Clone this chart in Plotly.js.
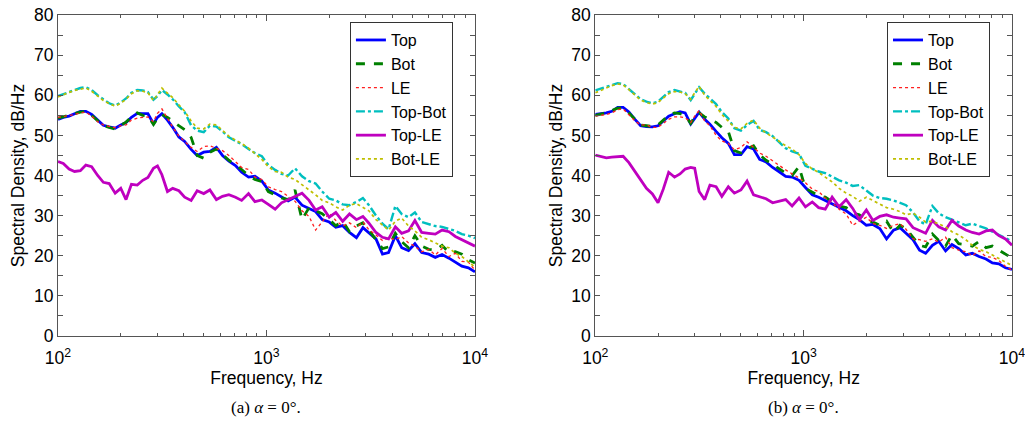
<!DOCTYPE html>
<html>
<head>
<meta charset="utf-8">
<script src="https://cdn.plot.ly/plotly-3.0.1.min.js"></script>
<style>html,body{margin:0;padding:0;background:#fff;}#chart{width:1025px;height:423px;}</style>
</head>
<body>
<div id="chart"></div>
<script>
const freq = [100,106,113,120,128,136,145,155,165,176,188,200,212,225,240,255,270,287,300,315,335,355,380,405,435,465,500,535,575,615,660,710,760,820,880,950,1020,1100,1180,1270,1370,1480,1600,1720,1850,2000,2150,2320,2500,2700,2900,3100,3350,3600,3850,4150,4450,4800,5150,5550,6000,6450,6950,7500,8050,8650,9300,10000];

const seriesNames = ["Top","Bot","LE","Top-Bot","Top-LE","Bot-LE"];

// Panel (a)
const topA = [54.0,54.5,54.8,55.3,56.0,56.0,55.2,53.8,52.5,52.1,51.8,52.6,53.2,54.5,55.5,55.4,55.4,52.9,54.5,55.4,53.8,52.0,49.6,48.5,46.5,45.0,45.8,46.0,47.0,45.0,43.6,42.5,40.8,39.6,39.8,38.6,36.4,35.6,34.6,33.7,34.6,32.6,31.8,31.0,29.0,28.4,27.1,27.5,25.8,24.5,27.0,25.6,24.2,20.4,20.8,25.0,22.0,21.3,23.0,20.8,20.4,19.6,20.3,19.4,18.5,17.4,17.0,16.0];
const botA = [54.3,54.6,54.9,55.4,55.8,56.0,55.0,53.6,52.4,52.0,51.6,52.5,53.3,54.6,55.6,55.0,54.8,52.7,54.2,55.2,54.5,53.5,52.5,51.4,49.5,45.0,44.3,45.8,46.6,45.2,43.8,42.6,41.5,40.0,39.0,38.5,36.0,35.2,34.4,34.0,36.4,29.0,32.0,31.2,30.5,29.0,27.5,28.6,26.0,27.4,28.2,26.4,24.0,21.8,22.2,25.6,23.5,22.0,25.0,22.4,21.6,21.4,22.6,20.8,21.0,20.4,19.0,18.2];
const leA = [54.5,54.7,55.0,55.2,55.6,55.8,54.8,53.4,52.6,52.3,51.9,52.4,52.6,53.8,54.3,54.5,54.6,53.4,55.5,56.6,54.2,52.0,49.8,48.5,47.0,46.0,47.2,47.4,46.8,46.2,45.0,43.4,42.0,41.5,39.6,39.0,37.2,36.5,36.0,34.8,33.6,31.2,29.8,26.4,28.5,30.6,28.8,27.4,28.2,27.0,28.4,26.5,25.2,23.8,24.4,24.0,24.8,23.2,22.4,21.0,21.6,20.2,21.8,19.8,20.6,18.6,18.4,16.4];
const topBotA = [59.8,60.3,60.8,61.4,61.8,62.0,61.3,60.0,58.9,58.0,57.4,58.2,59.2,60.6,61.3,61.2,60.8,58.9,59.8,61.3,60.2,59.0,57.2,55.8,52.5,51.2,50.8,52.4,52.2,51.0,49.5,48.6,47.8,46.6,45.6,44.8,42.6,41.4,40.4,40.0,41.8,39.8,38.6,38.0,36.0,34.2,33.8,32.8,32.6,33.4,34.4,32.6,30.0,28.0,26.6,32.4,30.4,29.6,30.8,28.4,27.8,27.4,27.2,26.6,26.2,25.4,25.0,24.4];
const topLeA = [43.5,43.0,41.6,41.0,41.2,42.6,42.2,40.0,38.3,38.0,35.6,36.8,34.0,37.8,37.6,38.8,39.5,41.8,42.4,40.2,36.0,36.8,36.2,34.6,33.8,36.2,35.5,36.4,34.0,34.8,35.2,34.6,33.8,35.5,33.5,33.9,32.8,31.6,33.2,34.0,34.7,35.6,33.8,31.4,32.2,29.6,30.8,28.6,30.4,29.0,29.8,28.1,25.8,24.6,24.2,27.2,25.6,26.2,28.8,25.8,25.6,25.4,26.4,26.0,24.8,24.0,23.2,22.4];
const botLeA = [59.6,60.2,60.7,61.2,61.6,61.8,61.0,59.8,58.7,57.9,57.3,58.0,59.0,60.4,61.1,61.0,60.6,58.7,60.2,61.8,60.5,59.4,57.6,56.0,53.6,51.8,51.6,52.8,52.6,51.2,49.8,48.8,48.0,46.8,45.4,44.0,42.2,41.0,40.8,39.6,39.0,37.6,36.4,35.2,33.8,33.2,32.2,31.4,32.6,33.0,32.0,31.2,29.0,27.6,26.4,28.6,29.4,27.4,26.2,24.6,24.0,23.2,22.4,22.0,20.6,19.8,18.4,17.2];

// Panel (b)
const topB = [55.2,55.4,55.6,56.0,57.0,57.0,55.8,54.0,52.4,52.2,52.1,52.4,53.6,54.8,55.4,55.9,55.6,52.8,54.2,55.8,54.0,52.8,51.0,49.4,48.0,45.2,45.2,47.2,46.6,44.0,43.4,42.0,41.0,39.8,39.6,38.8,37.0,35.2,34.6,33.8,33.0,32.0,31.2,30.0,29.0,27.6,27.8,26.8,24.2,26.4,27.0,25.6,24.0,21.4,20.6,22.6,23.6,21.2,22.8,21.8,20.2,20.6,19.8,19.2,18.2,18.0,17.0,16.6];
const botB = [55.0,55.2,55.6,56.2,56.8,56.8,55.6,54.0,52.6,52.4,52.2,52.6,53.8,55.0,55.6,55.4,55.0,53.0,54.6,55.6,54.6,54.0,53.2,52.0,51.0,46.2,45.6,46.6,47.4,45.2,43.8,42.8,41.8,40.6,40.0,42.2,36.8,35.8,35.0,34.6,33.6,32.4,32.0,30.6,30.2,28.8,28.4,27.6,28.6,25.8,27.6,26.8,24.6,22.6,22.2,25.4,23.8,22.4,25.2,23.0,22.8,22.4,23.6,22.0,22.4,21.4,20.6,19.4];
const leB = [54.8,55.0,55.2,55.6,56.4,56.6,55.2,53.6,52.6,52.6,52.0,52.0,53.0,54.0,54.6,54.6,54.4,53.2,54.8,56.2,53.6,52.4,50.0,48.6,48.0,46.4,47.0,48.4,47.0,45.6,44.8,43.6,42.6,41.4,40.4,39.4,38.2,36.6,36.0,34.4,33.2,31.6,30.4,27.6,28.6,29.6,28.0,27.6,26.8,27.6,28.0,26.6,24.2,24.0,23.6,24.2,23.4,24.6,22.0,21.4,21.0,20.0,21.2,19.8,19.6,18.8,17.4,16.4];
const topBotB = [61.2,61.6,62.0,62.6,63.0,62.8,61.6,60.2,59.0,58.4,58.0,58.4,59.6,60.8,61.3,61.0,60.6,58.8,60.2,62.0,60.4,59.2,57.8,55.8,54.2,51.8,51.2,52.6,53.6,51.4,50.8,49.8,48.4,46.8,46.0,45.4,42.4,41.6,41.0,40.6,39.8,38.8,38.2,37.4,37.6,36.2,35.0,34.4,34.2,33.8,33.2,32.6,30.8,28.6,27.8,32.4,30.6,29.6,29.0,28.4,27.6,28.0,27.4,26.8,26.0,25.2,24.4,23.6];
const topLeB = [45.1,44.8,44.4,44.6,44.8,44.8,43.2,41.0,38.8,36.8,35.4,33.2,36.6,40.8,39.6,40.4,41.6,42.0,41.8,36.0,34.0,37.6,37.2,34.8,37.2,35.6,36.4,38.6,35.2,34.8,34.2,33.2,33.6,34.0,32.4,34.4,32.2,33.4,32.0,31.6,34.6,32.2,34.0,31.8,29.0,31.4,28.8,29.8,30.2,29.6,29.4,29.2,27.0,26.2,25.6,28.8,27.2,26.4,28.8,27.4,26.4,25.8,25.4,26.2,26.4,25.0,24.2,22.6];
const botLeB = [60.6,61.2,61.8,62.4,62.8,62.6,61.4,60.0,58.8,58.2,57.8,58.2,59.2,60.4,60.9,60.8,60.4,59.0,60.6,62.2,60.0,58.8,57.2,55.2,53.6,52.0,51.6,53.0,53.8,51.8,50.6,49.6,48.6,47.4,46.6,45.2,43.0,41.6,40.8,39.6,38.4,36.8,35.6,34.8,33.6,34.6,33.8,33.0,32.0,31.6,31.0,30.2,30.6,29.6,28.4,28.6,28.0,27.2,26.0,25.2,24.0,22.6,21.6,21.0,20.2,19.2,18.4,17.6];

const xTickVals = [100,1000,10000];
const xTickText = ["10<sup>2</sup>","10<sup>3</sup>","10<sup>4</sup>"];
const xMinorVals = [200,300,400,500,600,700,800,900,2000,3000,4000,5000,6000,7000,8000,9000];

const styles = [
  {color:"#0000ff", width:2.8, dash:"solid"},
  {color:"#008000", width:2.8, dash:"dash"},
  {color:"#ff2020", width:1.3, dash:"dot"},
  {color:"#00bfbf", width:2.4, dash:"dashdot"},
  {color:"#bf00bf", width:2.8, dash:"solid"},
  {color:"#bfbf00", width:1.7, dash:"dot"}
];

const panelA = [topA, botA, leA, topBotA, topLeA, botLeA];
const panelB = [topB, botB, leB, topBotB, topLeB, botLeB];

const traces = [];
panelA.forEach((ys, i) => traces.push({
  x: freq, y: ys, name: seriesNames[i], type: "scatter", mode: "lines",
  line: styles[i], xaxis: "x", yaxis: "y", legend: "legend"
}));
panelB.forEach((ys, i) => traces.push({
  x: freq, y: ys, name: seriesNames[i], type: "scatter", mode: "lines",
  line: styles[i], xaxis: "x2", yaxis: "y2", legend: "legend2"
}));

const font = {family: "Liberation Sans, Arial, sans-serif", size: 17.5, color: "#000"};

function xAxis(domain, anchor) {
  return {
    type: "log", domain: domain, anchor: anchor, range: [2, 4],
    tickmode: "array", tickvals: xTickVals, ticktext: xTickText,
    ticks: "inside", ticklen: 6, tickcolor: "#555", ticklabelstandoff: 6,
    ticklabeloverflow: "allow",
    minor: {tickmode: "array", tickvals: xMinorVals, ticks: "inside", ticklen: 3, tickcolor: "#555"},
    showline: true, linecolor: "#555", linewidth: 1, mirror: "ticks",
    showgrid: false, zeroline: false, tickfont: font,
    title: {text: "Frequency, Hz", font: font, standoff: 0}
  };
}
function yAxis(anchor) {
  return {
    anchor: anchor, range: [0, 80], dtick: 10, tick0: 0,
    ticks: "inside", ticklen: 5, tickcolor: "#555",
    ticklabeloverflow: "allow",
    minor: {dtick: 5, ticks: "inside", ticklen: 5, tickcolor: "#555"},
    showline: true, linecolor: "#555", linewidth: 1, mirror: "ticks",
    showgrid: false, zeroline: false, tickfont: font,
    title: {text: "Spectral Density, dB/Hz", font: font, standoff: 4}
  };
}

const legendBase = {
  bgcolor: "#fff", bordercolor: "#333", borderwidth: 1,
  font: {family: "Liberation Sans, Arial, sans-serif", size: 16, color: "#000"},
  xanchor: "left", yanchor: "top", tracegroupgap: 0
};

const captionFont = {family: "Liberation Serif, Times New Roman, serif", size: 17, color: "#000"};

const layout = {
  width: 1025, height: 423,
  margin: {l: 58, r: 13, t: 15, b: 87},
  paper_bgcolor: "#fff", plot_bgcolor: "#fff",
  showlegend: true,
  xaxis: xAxis([0, 0.4371], "y"),
  yaxis: yAxis("x"),
  xaxis2: xAxis([0.5632, 1], "y2"),
  yaxis2: yAxis("x2"),
  legend: Object.assign({}, legendBase, {x: 0.306, y: 0.978}),
  legend2: Object.assign({}, legendBase, {x: 0.869, y: 0.978}),
  annotations: [
    {text: "(a) <i>α</i> = 0°.", xref: "paper", yref: "paper", x: 0.2185, y: -0.224,
     xanchor: "center", yanchor: "middle", showarrow: false, font: captionFont},
    {text: "(b) <i>α</i> = 0°.", xref: "paper", yref: "paper", x: 0.7816, y: -0.224,
     xanchor: "center", yanchor: "middle", showarrow: false, font: captionFont}
  ]
};

Plotly.newPlot("chart", traces, layout, {staticPlot: true, displayModeBar: false});
</script>
</body>
</html>
